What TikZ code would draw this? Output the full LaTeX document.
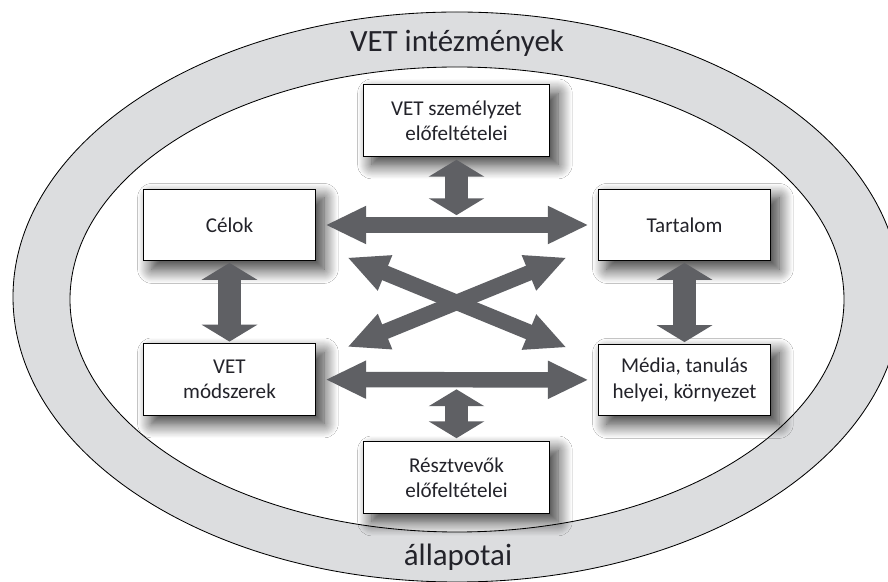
\documentclass[tikz,border=0pt]{standalone}
\usepackage{fontspec}
\setmainfont{Carlito}
\usepackage{xcolor}
\usetikzlibrary{arrows.meta, calc, shadows.blur}
\definecolor{ringgray}{RGB}{220,221,223}
\definecolor{arrowgray}{RGB}{95,96,100}
\definecolor{textdark}{RGB}{35,35,42}
\tikzset{
  box/.style={draw=black, line width=0.9pt, fill=white, minimum width=122.6pt, minimum height=51pt,
    align=center, text=textdark, font=\fontsize{15}{18}\selectfont,
    blur shadow={shadow xshift=6pt, shadow yshift=-6pt, shadow blur radius=10pt, shadow blur steps=14, shadow opacity=80}},
  widebox/.style={box, minimum width=132.5pt},
  longarrow/.style={draw=arrowgray, line width=11pt, {Triangle[length=29pt, width=25pt]}-{Triangle[length=29pt, width=25pt]}},
  shortarrow/.style={draw=arrowgray, line width=16pt, {Triangle[length=12pt, width=39pt]}-{Triangle[length=12pt, width=39pt]}},
  ringtext/.style={anchor=base, text=textdark, font=\fontsize{22}{24}\selectfont}
}

\begin{document}
\begin{tikzpicture}[x=0.025cm, y=-0.025cm]
          \useasboundingbox (0,0) rectangle (888,582);
          \draw[fill=ringgray, line width=0.6pt] (457,297) ellipse [x radius=444, y radius=285];
          \draw[fill=white, line width=0.6pt] (457,299.5) ellipse [x radius=387, y radius=232.5];
          \node[ringtext] (title) at (457,52) {VET intézmények};
          \node[ringtext] (state) at (458,566) {állapotai};
          \node[widebox] (staff) at (456.5,120.5) {VET személyzet\\előfeltételei};
          \node[box] (celok) at (229.5,225) {Célok};
          \node[box] (tartalom) at (684.5,225) {Tartalom};
          \node[box] (modszer) at (229.5,379.5) {VET\\módszerek};
          \node[box] (media) at (684.5,380) {Média, tanulás\\helyei, környezet};
          \node[widebox] (resz) at (456.5,477.5) {Résztvevők\\előfeltételei};
          \coordinate (topjoin) at (staff.south |- celok.east);
          \coordinate (botjoin) at (resz.north |- modszer.east);
          \coordinate (xa) at ($(celok.south east)+(31,-4)$);
          \coordinate (xb) at ($(tartalom.south west)+(-31,-4)$);
          \coordinate (xc) at ($(modszer.north east)+(31,4)$);
          \coordinate (xd) at ($(media.north west)+(-31,4)$);
          \draw[longarrow, shorten <=6.4pt, shorten >=6.4pt] (celok) -- (tartalom);
          \draw[longarrow, shorten <=6.4pt, shorten >=6.4pt] (modszer) -- (media);
          \draw[longarrow] (xa) -- (xd);
          \draw[longarrow] (xc) -- (xb);
          \draw[shortarrow, shorten <=2pt, shorten >=7pt] (staff) -- (topjoin);
          \draw[shortarrow, shorten <=7pt, shorten >=2pt] (botjoin) -- (resz);
          \draw[shortarrow, shorten <=1pt, shorten >=1pt] (celok) -- (modszer);
          \draw[shortarrow, shorten <=1pt, shorten >=1pt] (tartalom) -- (media);
        \end{tikzpicture}
\end{document}
